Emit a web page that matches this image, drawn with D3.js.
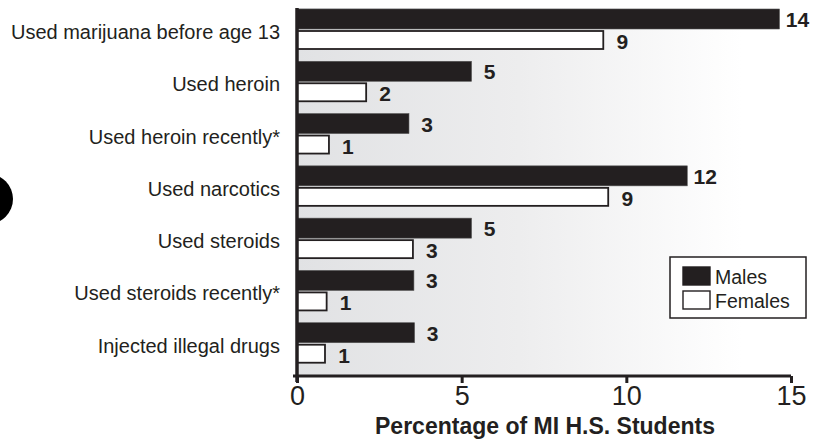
<!DOCTYPE html>
<html>
<head>
<meta charset="utf-8">
<script src="https://cdn.jsdelivr.net/npm/d3@7"></script>
<style>
  html, body { margin: 0; padding: 0; background: #ffffff; }
  svg { display: block; font-family: "Liberation Sans", Arial, sans-serif; }
</style>
</head>
<body>
<svg id="chart" width="819" height="439"></svg>
<script>
const categories = [
  "Used marijuana before age 13",
  "Used heroin",
  "Used heroin recently*",
  "Used narcotics",
  "Used steroids",
  "Used steroids recently*",
  "Injected illegal drugs"
];
const malesValues   = [14.65, 5.3, 3.4, 11.85, 5.3, 3.55, 3.57];
const femalesValues = [9.3, 2.1, 0.97, 9.45, 3.52, 0.9, 0.85];
const malesLabels   = ["14", "5", "3", "12", "5", "3", "3"];
const femalesLabels = ["9", "2", "1", "9", "3", "1", "1"];
const xTicks = [0, 5, 10, 15];
const seriesNames = ["Males", "Females"];
const axisTitle = "Percentage of MI H.S. Students";

(function () {
const svg = d3.select("#chart");
const mLeft = 297, mRight = 791, mTop = 8, mBottom = 374;

const x = d3.scaleLinear().domain([0, 15]).range([mLeft, mRight]);
const y = d3.scaleBand().domain(categories).range([mTop, mBottom]).paddingInner(0).paddingOuter(0);

// background gradient
const defs = svg.append("defs");
const grad = defs.append("linearGradient").attr("id", "bg").attr("x1", "0").attr("x2", "1").attr("y1", "0").attr("y2", "0");
grad.append("stop").attr("offset", "0%").attr("stop-color", "#e1e2e4");
grad.append("stop").attr("offset", "45%").attr("stop-color", "#ededee");
grad.append("stop").attr("offset", "90%").attr("stop-color", "#ffffff");
grad.append("stop").attr("offset", "100%").attr("stop-color", "#ffffff");
svg.append("rect").attr("x", mLeft).attr("y", mTop).attr("width", mRight - mLeft).attr("height", mBottom + 2 - mTop)
  .attr("fill", "url(#bg)");

// black circle on the left edge
svg.append("circle").attr("cx", -12).attr("cy", 199).attr("r", 25).attr("fill", "#000");

const maleH = 20, femH = 18;

// male bars
svg.append("g").selectAll("rect").data(categories).join("rect")
  .attr("x", x(0))
  .attr("y", d => y(d) + 1)
  .attr("width", (d, i) => x(malesValues[i]) - x(0))
  .attr("height", maleH)
  .attr("fill", "#231f20")
  .attr("stroke", "#555")
  .attr("stroke-width", 0.6);

// female bars
svg.append("g").selectAll("rect").data(categories).join("rect")
  .attr("x", x(0))
  .attr("y", d => y(d) + 23)
  .attr("width", (d, i) => x(femalesValues[i]) - x(0))
  .attr("height", femH)
  .attr("fill", "#ffffff")
  .attr("stroke", "#231f20")
  .attr("stroke-width", 1.8);

// value labels
svg.append("g").selectAll("text").data(categories).join("text")
  .attr("x", (d, i) => x(malesValues[i]) + 18)
  .attr("y", d => y(d) + 1 + maleH / 2 + 0.5)
  .attr("text-anchor", "middle")
  .attr("dominant-baseline", "central")
  .attr("font-size", 21).attr("font-weight", "bold").attr("fill", "#231f20")
  .text((d, i) => malesLabels[i]);
svg.append("g").selectAll("text").data(categories).join("text")
  .attr("x", (d, i) => x(femalesValues[i]) + 19)
  .attr("y", d => y(d) + 23 + femH / 2 + 1.5)
  .attr("text-anchor", "middle")
  .attr("dominant-baseline", "central")
  .attr("font-size", 21).attr("font-weight", "bold").attr("fill", "#231f20")
  .text((d, i) => femalesLabels[i]);

// category labels
svg.append("g").selectAll("text").data(categories).join("text")
  .attr("x", 280)
  .attr("y", d => y(d) + 24)
  .attr("text-anchor", "end")
  .attr("dominant-baseline", "central")
  .attr("font-size", 20).attr("fill", "#231f20")
  .text(d => d);

// y axis line
svg.append("line").attr("x1", mLeft).attr("x2", mLeft).attr("y1", mTop).attr("y2", mBottom + 8)
  .attr("stroke", "#231f20").attr("stroke-width", 3.5);

// x axis
const xAxis = d3.axisBottom(x).tickValues(xTicks).tickSize(7).tickPadding(3).tickFormat(d3.format("d"));
const gx = svg.append("g").attr("transform", `translate(0,${mBottom + 2})`).call(xAxis);
gx.select(".domain").attr("d", `M${mLeft - 4},0H${mRight}`).attr("stroke", "#231f20").attr("stroke-width", 3);
gx.selectAll(".tick line").attr("stroke", "#231f20").attr("stroke-width", 3);
gx.selectAll(".tick text").attr("font-size", 27).attr("fill", "#231f20").attr("font-family", "Liberation Sans, Arial, sans-serif");

svg.append("text").attr("x", 545).attr("y", 426)
  .attr("text-anchor", "middle").attr("dominant-baseline", "central")
  .attr("font-size", 23).attr("font-weight", "bold").attr("fill", "#231f20")
  .text(axisTitle);

// legend
const lg = svg.append("g");
lg.append("rect").attr("x", 670).attr("y", 257).attr("width", 136).attr("height", 61)
  .attr("fill", "#ffffff").attr("stroke", "#231f20").attr("stroke-width", 1.5);
const swFill = ["#231f20", "#ffffff"];
seriesNames.forEach((n, i) => {
  lg.append("rect").attr("x", 683).attr("y", 267 + i * 24).attr("width", 27).attr("height", 18)
    .attr("fill", swFill[i]).attr("stroke", "#231f20").attr("stroke-width", 1.4);
  lg.append("text").attr("x", 715).attr("y", 277 + i * 24)
    .attr("dominant-baseline", "central").attr("font-size", 19.5).attr("fill", "#231f20").text(n);
});
})();
</script>
</body>
</html>
